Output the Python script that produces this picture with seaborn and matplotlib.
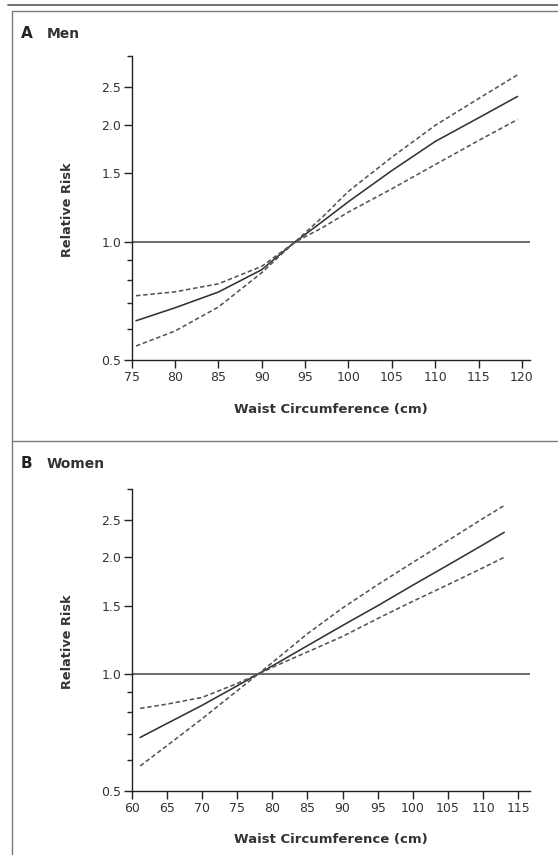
import pandas as pd
import matplotlib
matplotlib.use('Agg')
import matplotlib.pyplot as plt
import matplotlib.ticker as mticker
from matplotlib.lines import Line2D
import seaborn as sns

# Step 1: Values
men_waist = [75.5, 80, 85, 90, 92, 93.8, 97, 100, 105, 110, 115, 119.5]
men_rr = [0.63, 0.68, 0.746, 0.851, 0.927, 1.0, 1.13, 1.27, 1.525, 1.81, 2.08, 2.36]
men_upper = [0.73, 0.747, 0.783, 0.868, 0.935, 1.0, 1.16, 1.35, 1.65, 1.99, 2.33, 2.68]
men_lower = [0.543, 0.593, 0.683, 0.836, 0.92, 1.0, 1.09, 1.195, 1.37, 1.58, 1.82, 2.06]

women_waist = [61.2, 65, 70, 75, 78, 80, 85, 90, 95, 100, 105, 110, 113]
women_rr = [0.686, 0.745, 0.83, 0.932, 1.0, 1.049, 1.183, 1.334, 1.50, 1.695, 1.91, 2.155, 2.32]
women_upper = [0.815, 0.836, 0.87, 0.945, 1.0, 1.07, 1.27, 1.48, 1.70, 1.94, 2.21, 2.52, 2.72]
women_lower = [0.579, 0.653, 0.766, 0.905, 1.0, 1.04, 1.14, 1.25, 1.39, 1.54, 1.70, 1.88, 2.0]

men_xticks = [75, 80, 85, 90, 95, 100, 105, 110, 115, 120]
women_xticks = [60, 65, 70, 75, 80, 85, 90, 95, 100, 105, 110, 115]
rr_ticks = [0.5, 1.0, 1.5, 2.0, 2.5]
rr_minor = [0.6, 0.7, 0.8, 0.9, 3.0]

men_df = pd.DataFrame({'waist': men_waist, 'rr': men_rr, 'upper': men_upper, 'lower': men_lower})
women_df = pd.DataFrame({'waist': women_waist, 'rr': women_rr, 'upper': women_upper, 'lower': women_lower})

# Step 2: Style
sns.set_style('ticks')
plt.rcParams['font.family'] = ['DejaVu Sans']

W, H = 558, 855
fig = plt.figure(figsize=(W / 100, H / 100), dpi=100)


def fx(px):
    return px / W


def fy(py):
    return 1 - py / H


# Step 3: Frame lines around the panels
frame_color = '#7a7a7a'
fig.add_artist(Line2D([fx(8), fx(558)], [fy(4.8), fy(4.8)], color='#666666', lw=1.3, transform=fig.transFigure))
fig.add_artist(Line2D([fx(11.7), fx(558)], [fy(11), fy(11)], color=frame_color, lw=1.0, transform=fig.transFigure))
fig.add_artist(Line2D([fx(11.7), fx(11.7)], [fy(11), fy(855)], color=frame_color, lw=1.0, transform=fig.transFigure))
fig.add_artist(Line2D([fx(11.7), fx(558)], [fy(440.7), fy(440.7)], color=frame_color, lw=1.0, transform=fig.transFigure))

# Step 4: Panels
panels = [
    (men_df, men_xticks, (75, 120.94), (131.7, 55.7, 530, 360), 'A', 'Men', 38),
    (women_df, women_xticks, (60, 116.66), (131.7, 489, 530, 790.7), 'B', 'Women', 468),
]

for df, xticks, xlim, box, letter, name, title_y in panels:
    left, top, right, bottom = box
    ax = fig.add_axes([fx(left), fy(bottom), (right - left) / W, (bottom - top) / H])

    ax.axhline(1.0, color='#444444', lw=1.1)
    sns.lineplot(data=df, x='waist', y='rr', ax=ax, color='#333333', lw=1.15, errorbar=None)
    sns.lineplot(data=df, x='waist', y='upper', ax=ax, color='#555555', lw=1.15,
                 linestyle=(0, (2.8, 1.7)), errorbar=None)
    sns.lineplot(data=df, x='waist', y='lower', ax=ax, color='#555555', lw=1.15,
                 linestyle=(0, (2.8, 1.7)), errorbar=None)

    ax.set_yscale('log')
    ax.set_ylim(0.5, 3.0)
    ax.set_xlim(*xlim)
    ax.yaxis.set_major_locator(mticker.FixedLocator(rr_ticks))
    ax.yaxis.set_major_formatter(mticker.FixedFormatter([f'{t:.1f}' for t in rr_ticks]))
    ax.yaxis.set_minor_locator(mticker.FixedLocator(rr_minor))
    ax.yaxis.set_minor_formatter(mticker.NullFormatter())
    ax.set_xticks(xticks)
    ax.set_xticklabels([str(t) for t in xticks])

    sns.despine(ax=ax)
    for side in ['left', 'bottom']:
        ax.spines[side].set_color('#222222')
        ax.spines[side].set_linewidth(1.0)
    ax.tick_params(which='major', length=6, width=1.0, color='#222222', direction='out',
                   labelsize=9, labelcolor='#333333', pad=1.5)
    ax.tick_params(which='minor', length=3.6, width=1.0, color='#222222', direction='out')
    ax.tick_params(axis='x', pad=2)

    ax.set_xlabel('Waist Circumference (cm)', fontsize=9.5, fontweight='bold', color='#333333')
    ax.set_ylabel('Relative Risk', fontsize=9.3, fontweight='bold', color='#333333')
    ax.xaxis.set_label_coords(0.5, -0.141)
    ax.yaxis.set_label_coords(-0.145, 0.495)

    fig.text(fx(20.5), fy(title_y), letter, fontsize=11, fontweight='bold', color='#222222', va='baseline')
    fig.text(fx(47), fy(title_y), name, fontsize=10, fontweight='bold', color='#333333', va='baseline')

plt.savefig('out.png', dpi=100)
